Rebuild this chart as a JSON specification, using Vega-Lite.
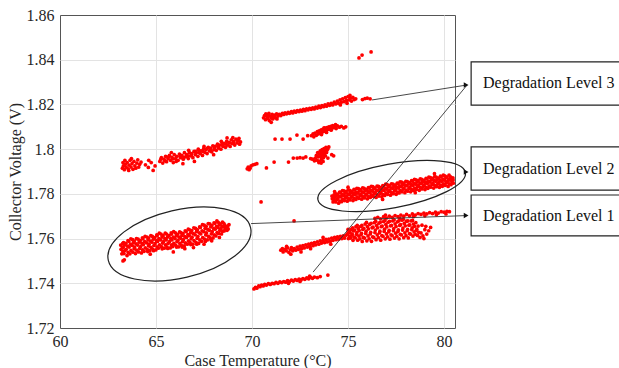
{
"$schema": "https://vega.github.io/schema/vega-lite/v6.json",
"width": 395, "height": 313,
"autosize": {"type": "none"},
"padding": {"left": 60, "top": 15, "right": 164, "bottom": 40},
"background": "white",
"config": {
  "view": {"stroke": "#555555", "strokeWidth": 1},
  "axis": {"labelFont": "Liberation Serif", "titleFont": "Liberation Serif", "labelFontSize": 16, "titleFontSize": 16, "labelColor": "#262626", "titleColor": "#262626", "titleFontWeight": "normal", "gridWidth": 1, "domain": false, "ticks": false, "labelFlush": false}
},
"encoding": {
  "x": {"field": "t", "type": "quantitative", "scale": {"domain": [60, 80.57], "nice": false, "zero": false}, "axis": {"title": "Case Temperature (°C)", "values": [60, 65, 70, 75, 80], "labelPadding": 5, "titlePadding": 3, "gridColor": {"condition": {"test": "datum.value <= 60", "value": "transparent"}, "value": "#e3e3e3"}}},
  "y": {"field": "v", "type": "quantitative", "scale": {"domain": [1.72, 1.86], "nice": false, "zero": false}, "axis": {"title": "Collector Voltage (V)", "values": [1.72, 1.74, 1.76, 1.78, 1.8, 1.82, 1.84, 1.86], "labelExpr": "format(datum.value, '.2~f')", "labelPadding": 6, "titlePadding": 3, "gridColor": {"condition": {"test": "datum.value <= 1.7201 || datum.value >= 1.8599", "value": "transparent"}, "value": "#e3e3e3"}}}
},
"layer": [
{
"data": {"values": [
{"t":63.22,"v":1.7532},{"t":63.28,"v":1.7543},{"t":63.18,"v":1.7552},{"t":63.25,"v":1.7562},{"t":63.16,"v":1.7571},{"t":63.27,"v":1.7579},{"t":63.28,"v":1.7500},{"t":63.35,"v":1.7505},
{"t":63.33,"v":1.7533},{"t":63.39,"v":1.7547},{"t":63.29,"v":1.7560},{"t":63.36,"v":1.7571},{"t":63.31,"v":1.7582},
{"t":63.49,"v":1.7524},{"t":63.55,"v":1.7538},{"t":63.45,"v":1.7552},{"t":63.52,"v":1.7566},{"t":63.43,"v":1.7579},{"t":63.54,"v":1.7591},
{"t":63.64,"v":1.7532},{"t":63.70,"v":1.7547},{"t":63.60,"v":1.7562},{"t":63.67,"v":1.7575},{"t":63.58,"v":1.7588},{"t":63.69,"v":1.7599},
{"t":63.80,"v":1.7539},{"t":63.86,"v":1.7555},{"t":63.76,"v":1.7569},{"t":63.83,"v":1.7582},{"t":63.78,"v":1.7595},
{"t":63.93,"v":1.7533},{"t":63.99,"v":1.7548},{"t":63.89,"v":1.7562},{"t":63.96,"v":1.7576},{"t":63.87,"v":1.7589},{"t":63.98,"v":1.7600},
{"t":64.09,"v":1.7540},{"t":64.15,"v":1.7556},{"t":64.05,"v":1.7571},{"t":64.12,"v":1.7584},{"t":64.07,"v":1.7597},
{"t":64.24,"v":1.7536},{"t":64.30,"v":1.7550},{"t":64.20,"v":1.7564},{"t":64.27,"v":1.7578},{"t":64.18,"v":1.7591},{"t":64.29,"v":1.7603},
{"t":64.38,"v":1.7543},{"t":64.44,"v":1.7558},{"t":64.34,"v":1.7573},{"t":64.41,"v":1.7586},{"t":64.32,"v":1.7599},{"t":64.43,"v":1.7610},
{"t":64.55,"v":1.7551},{"t":64.61,"v":1.7567},{"t":64.51,"v":1.7581},{"t":64.58,"v":1.7594},{"t":64.53,"v":1.7607},{"t":64.57,"v":1.7542},
{"t":64.68,"v":1.7546},{"t":64.74,"v":1.7561},{"t":64.64,"v":1.7575},{"t":64.71,"v":1.7589},{"t":64.62,"v":1.7602},{"t":64.73,"v":1.7613},
{"t":64.83,"v":1.7553},{"t":64.89,"v":1.7569},{"t":64.79,"v":1.7584},{"t":64.86,"v":1.7597},{"t":64.81,"v":1.7610},{"t":64.87,"v":1.7546},
{"t":64.99,"v":1.7549},{"t":65.05,"v":1.7563},{"t":64.95,"v":1.7577},{"t":65.02,"v":1.7591},{"t":64.93,"v":1.7604},{"t":65.04,"v":1.7616},
{"t":65.12,"v":1.7557},{"t":65.18,"v":1.7572},{"t":65.08,"v":1.7587},{"t":65.15,"v":1.7600},{"t":65.06,"v":1.7613},{"t":65.17,"v":1.7624},
{"t":65.28,"v":1.7564},{"t":65.34,"v":1.7580},{"t":65.24,"v":1.7594},{"t":65.31,"v":1.7607},{"t":65.26,"v":1.7620},{"t":65.32,"v":1.7554},
{"t":65.43,"v":1.7557},{"t":65.49,"v":1.7572},{"t":65.39,"v":1.7586},{"t":65.46,"v":1.7600},{"t":65.37,"v":1.7613},{"t":65.48,"v":1.7624},
{"t":65.57,"v":1.7563},{"t":65.63,"v":1.7579},{"t":65.53,"v":1.7594},{"t":65.60,"v":1.7607},{"t":65.55,"v":1.7620},{"t":65.61,"v":1.7556},
{"t":65.74,"v":1.7558},{"t":65.80,"v":1.7572},{"t":65.70,"v":1.7586},{"t":65.77,"v":1.7600},{"t":65.68,"v":1.7613},{"t":65.79,"v":1.7625},
{"t":65.87,"v":1.7564},{"t":65.93,"v":1.7579},{"t":65.83,"v":1.7594},{"t":65.90,"v":1.7607},{"t":65.81,"v":1.7620},{"t":65.92,"v":1.7631},
{"t":66.03,"v":1.7570},{"t":66.09,"v":1.7586},{"t":65.99,"v":1.7600},{"t":66.06,"v":1.7613},{"t":66.01,"v":1.7626},{"t":66.07,"v":1.7562},
{"t":66.18,"v":1.7563},{"t":66.24,"v":1.7578},{"t":66.14,"v":1.7592},{"t":66.21,"v":1.7606},{"t":66.12,"v":1.7619},{"t":66.23,"v":1.7630},
{"t":66.32,"v":1.7570},{"t":66.38,"v":1.7586},{"t":66.28,"v":1.7601},{"t":66.35,"v":1.7614},{"t":66.30,"v":1.7627},{"t":66.36,"v":1.7562},
{"t":66.47,"v":1.7567},{"t":66.53,"v":1.7581},{"t":66.43,"v":1.7595},{"t":66.50,"v":1.7609},{"t":66.41,"v":1.7622},{"t":66.52,"v":1.7634},
{"t":66.63,"v":1.7575},{"t":66.69,"v":1.7590},{"t":66.59,"v":1.7605},{"t":66.66,"v":1.7618},{"t":66.57,"v":1.7631},{"t":66.68,"v":1.7642},
{"t":66.77,"v":1.7583},{"t":66.83,"v":1.7599},{"t":66.73,"v":1.7613},{"t":66.80,"v":1.7626},{"t":66.75,"v":1.7639},{"t":66.81,"v":1.7573},
{"t":66.92,"v":1.7575},{"t":66.98,"v":1.7591},{"t":66.88,"v":1.7606},{"t":66.95,"v":1.7622},{"t":66.86,"v":1.7636},{"t":66.97,"v":1.7648},
{"t":67.08,"v":1.7583},{"t":67.14,"v":1.7601},{"t":67.04,"v":1.7617},{"t":67.11,"v":1.7632},{"t":67.06,"v":1.7646},{"t":67.12,"v":1.7575},
{"t":67.22,"v":1.7578},{"t":67.28,"v":1.7594},{"t":67.18,"v":1.7609},{"t":67.25,"v":1.7625},{"t":67.16,"v":1.7639},{"t":67.27,"v":1.7652},
{"t":67.37,"v":1.7588},{"t":67.43,"v":1.7604},{"t":67.33,"v":1.7621},{"t":67.40,"v":1.7635},{"t":67.31,"v":1.7650},{"t":67.42,"v":1.7662},
{"t":67.53,"v":1.7598},{"t":67.59,"v":1.7616},{"t":67.49,"v":1.7631},{"t":67.56,"v":1.7646},{"t":67.51,"v":1.7660},{"t":67.57,"v":1.7587},
{"t":67.67,"v":1.7594},{"t":67.73,"v":1.7610},{"t":67.63,"v":1.7625},{"t":67.70,"v":1.7641},{"t":67.61,"v":1.7655},{"t":67.72,"v":1.7667},
{"t":67.82,"v":1.7603},{"t":67.88,"v":1.7621},{"t":67.78,"v":1.7637},{"t":67.85,"v":1.7652},{"t":67.80,"v":1.7666},{"t":67.86,"v":1.7595},
{"t":67.97,"v":1.7603},{"t":68.03,"v":1.7617},{"t":67.93,"v":1.7631},{"t":68.00,"v":1.7645},{"t":67.91,"v":1.7658},{"t":68.02,"v":1.7670},
{"t":68.12,"v":1.7612},{"t":68.18,"v":1.7627},{"t":68.08,"v":1.7642},{"t":68.15,"v":1.7655},{"t":68.06,"v":1.7668},{"t":68.17,"v":1.7679},
{"t":68.26,"v":1.7623},{"t":68.32,"v":1.7637},{"t":68.22,"v":1.7650},{"t":68.29,"v":1.7661},{"t":68.24,"v":1.7673},
{"t":68.41,"v":1.7621},{"t":68.47,"v":1.7633},{"t":68.37,"v":1.7644},{"t":68.44,"v":1.7655},{"t":68.35,"v":1.7666},{"t":68.46,"v":1.7674},
{"t":68.55,"v":1.7634},{"t":68.61,"v":1.7643},{"t":68.51,"v":1.7652},{"t":68.58,"v":1.7660},{"t":68.53,"v":1.7668},
{"t":68.70,"v":1.7637},{"t":68.76,"v":1.7643},{"t":68.66,"v":1.7649},{"t":68.73,"v":1.7656},{"t":68.80,"v":1.7662},
{"t":65.90,"v":1.7540},{"t":66.50,"v":1.7555},{"t":67.50,"v":1.7575},{"t":67.90,"v":1.7590},{"t":68.30,"v":1.7605},{"t":64.70,"v":1.7530},{"t":66.95,"v":1.7560},
{"t":74.22,"v":1.7764},{"t":74.28,"v":1.7772},{"t":74.18,"v":1.7778},{"t":74.25,"v":1.7784},{"t":74.16,"v":1.7790},{"t":74.27,"v":1.7795},
{"t":74.36,"v":1.7764},{"t":74.42,"v":1.7774},{"t":74.32,"v":1.7785},{"t":74.39,"v":1.7792},{"t":74.34,"v":1.7801},
{"t":74.51,"v":1.7758},{"t":74.57,"v":1.7768},{"t":74.47,"v":1.7779},{"t":74.54,"v":1.7790},{"t":74.45,"v":1.7799},{"t":74.56,"v":1.7808},
{"t":74.66,"v":1.7765},{"t":74.72,"v":1.7776},{"t":74.62,"v":1.7787},{"t":74.69,"v":1.7797},{"t":74.60,"v":1.7807},{"t":74.71,"v":1.7815},
{"t":74.81,"v":1.7770},{"t":74.87,"v":1.7782},{"t":74.77,"v":1.7793},{"t":74.84,"v":1.7803},{"t":74.79,"v":1.7813},
{"t":74.96,"v":1.7767},{"t":75.02,"v":1.7779},{"t":74.92,"v":1.7789},{"t":74.99,"v":1.7800},{"t":74.90,"v":1.7810},{"t":75.01,"v":1.7818},
{"t":75.11,"v":1.7773},{"t":75.17,"v":1.7785},{"t":75.07,"v":1.7797},{"t":75.14,"v":1.7806},{"t":75.09,"v":1.7816},
{"t":75.26,"v":1.7770},{"t":75.32,"v":1.7780},{"t":75.22,"v":1.7791},{"t":75.29,"v":1.7802},{"t":75.20,"v":1.7811},{"t":75.31,"v":1.7820},
{"t":75.41,"v":1.7775},{"t":75.47,"v":1.7786},{"t":75.37,"v":1.7797},{"t":75.44,"v":1.7807},{"t":75.35,"v":1.7817},{"t":75.46,"v":1.7825},
{"t":75.56,"v":1.7780},{"t":75.62,"v":1.7792},{"t":75.52,"v":1.7803},{"t":75.59,"v":1.7813},{"t":75.54,"v":1.7823},
{"t":75.71,"v":1.7776},{"t":75.77,"v":1.7788},{"t":75.67,"v":1.7798},{"t":75.74,"v":1.7809},{"t":75.65,"v":1.7819},{"t":75.76,"v":1.7827},
{"t":75.86,"v":1.7782},{"t":75.92,"v":1.7794},{"t":75.82,"v":1.7806},{"t":75.89,"v":1.7815},{"t":75.84,"v":1.7825},
{"t":76.01,"v":1.7778},{"t":76.07,"v":1.7788},{"t":75.97,"v":1.7799},{"t":76.04,"v":1.7810},{"t":75.95,"v":1.7819},{"t":76.06,"v":1.7828},
{"t":76.16,"v":1.7784},{"t":76.22,"v":1.7795},{"t":76.12,"v":1.7806},{"t":76.19,"v":1.7816},{"t":76.10,"v":1.7826},{"t":76.21,"v":1.7834},
{"t":76.31,"v":1.7789},{"t":76.37,"v":1.7801},{"t":76.27,"v":1.7812},{"t":76.34,"v":1.7822},{"t":76.29,"v":1.7832},
{"t":76.46,"v":1.7784},{"t":76.52,"v":1.7796},{"t":76.42,"v":1.7806},{"t":76.49,"v":1.7817},{"t":76.40,"v":1.7827},{"t":76.51,"v":1.7835},
{"t":76.61,"v":1.7790},{"t":76.67,"v":1.7802},{"t":76.57,"v":1.7814},{"t":76.64,"v":1.7823},{"t":76.59,"v":1.7833},
{"t":76.76,"v":1.7787},{"t":76.82,"v":1.7797},{"t":76.72,"v":1.7808},{"t":76.79,"v":1.7819},{"t":76.70,"v":1.7828},{"t":76.81,"v":1.7837},
{"t":76.91,"v":1.7793},{"t":76.97,"v":1.7804},{"t":76.87,"v":1.7815},{"t":76.94,"v":1.7825},{"t":76.85,"v":1.7835},{"t":76.96,"v":1.7843},
{"t":77.06,"v":1.7798},{"t":77.12,"v":1.7810},{"t":77.02,"v":1.7821},{"t":77.09,"v":1.7831},{"t":77.04,"v":1.7841},
{"t":77.21,"v":1.7794},{"t":77.27,"v":1.7806},{"t":77.17,"v":1.7816},{"t":77.24,"v":1.7827},{"t":77.15,"v":1.7837},{"t":77.26,"v":1.7845},
{"t":77.36,"v":1.7801},{"t":77.42,"v":1.7813},{"t":77.32,"v":1.7825},{"t":77.39,"v":1.7834},{"t":77.34,"v":1.7844},
{"t":77.51,"v":1.7798},{"t":77.57,"v":1.7808},{"t":77.47,"v":1.7819},{"t":77.54,"v":1.7830},{"t":77.45,"v":1.7839},{"t":77.56,"v":1.7848},
{"t":77.66,"v":1.7804},{"t":77.72,"v":1.7815},{"t":77.62,"v":1.7826},{"t":77.69,"v":1.7836},{"t":77.60,"v":1.7846},{"t":77.71,"v":1.7854},
{"t":77.81,"v":1.7809},{"t":77.87,"v":1.7821},{"t":77.77,"v":1.7832},{"t":77.84,"v":1.7842},{"t":77.79,"v":1.7852},
{"t":77.96,"v":1.7805},{"t":78.02,"v":1.7817},{"t":77.92,"v":1.7827},{"t":77.99,"v":1.7838},{"t":77.90,"v":1.7848},{"t":78.01,"v":1.7856},
{"t":78.11,"v":1.7812},{"t":78.17,"v":1.7824},{"t":78.07,"v":1.7836},{"t":78.14,"v":1.7845},{"t":78.09,"v":1.7855},
{"t":78.26,"v":1.7809},{"t":78.32,"v":1.7819},{"t":78.22,"v":1.7830},{"t":78.29,"v":1.7841},{"t":78.20,"v":1.7850},{"t":78.31,"v":1.7859},
{"t":78.41,"v":1.7815},{"t":78.47,"v":1.7826},{"t":78.37,"v":1.7837},{"t":78.44,"v":1.7847},{"t":78.35,"v":1.7857},{"t":78.46,"v":1.7865},
{"t":78.56,"v":1.7820},{"t":78.62,"v":1.7832},{"t":78.52,"v":1.7843},{"t":78.59,"v":1.7853},{"t":78.54,"v":1.7863},
{"t":78.71,"v":1.7816},{"t":78.77,"v":1.7828},{"t":78.67,"v":1.7838},{"t":78.74,"v":1.7849},{"t":78.65,"v":1.7859},{"t":78.76,"v":1.7867},
{"t":78.86,"v":1.7822},{"t":78.92,"v":1.7834},{"t":78.82,"v":1.7846},{"t":78.89,"v":1.7855},{"t":78.84,"v":1.7865},
{"t":79.01,"v":1.7819},{"t":79.07,"v":1.7829},{"t":78.97,"v":1.7840},{"t":79.04,"v":1.7851},{"t":78.95,"v":1.7860},{"t":79.06,"v":1.7869},
{"t":79.16,"v":1.7825},{"t":79.22,"v":1.7836},{"t":79.12,"v":1.7847},{"t":79.19,"v":1.7857},{"t":79.10,"v":1.7867},{"t":79.21,"v":1.7875},
{"t":79.31,"v":1.7830},{"t":79.37,"v":1.7842},{"t":79.27,"v":1.7853},{"t":79.34,"v":1.7863},{"t":79.29,"v":1.7873},
{"t":79.46,"v":1.7826},{"t":79.52,"v":1.7838},{"t":79.42,"v":1.7848},{"t":79.49,"v":1.7859},{"t":79.40,"v":1.7869},{"t":79.51,"v":1.7877},
{"t":79.61,"v":1.7832},{"t":79.67,"v":1.7844},{"t":79.57,"v":1.7856},{"t":79.64,"v":1.7865},{"t":79.59,"v":1.7875},
{"t":79.76,"v":1.7829},{"t":79.82,"v":1.7839},{"t":79.72,"v":1.7850},{"t":79.79,"v":1.7861},{"t":79.70,"v":1.7870},{"t":79.81,"v":1.7879},
{"t":79.91,"v":1.7834},{"t":79.97,"v":1.7845},{"t":79.87,"v":1.7856},{"t":79.94,"v":1.7866},{"t":79.85,"v":1.7876},{"t":79.96,"v":1.7884},
{"t":80.06,"v":1.7838},{"t":80.12,"v":1.7850},{"t":80.02,"v":1.7861},{"t":80.09,"v":1.7871},{"t":80.04,"v":1.7881},
{"t":80.21,"v":1.7833},{"t":80.27,"v":1.7845},{"t":80.17,"v":1.7855},{"t":80.24,"v":1.7866},{"t":80.15,"v":1.7876},{"t":80.26,"v":1.7884},
{"t":80.36,"v":1.7841},{"t":80.42,"v":1.7851},{"t":80.32,"v":1.7861},{"t":80.39,"v":1.7868},{"t":80.34,"v":1.7876},
{"t":80.48,"v":1.7848},{"t":80.47,"v":1.7862},{"t":80.46,"v":1.7872},
{"t":75.00,"v":1.7830},{"t":76.80,"v":1.7775},{"t":78.50,"v":1.7805},{"t":79.50,"v":1.7890},{"t":74.30,"v":1.7810},
{"t":63.25,"v":1.7915},{"t":63.30,"v":1.7925},{"t":63.35,"v":1.7908},{"t":63.40,"v":1.7932},{"t":63.45,"v":1.7918},{"t":63.50,"v":1.7940},{"t":63.55,"v":1.7912},{"t":63.60,"v":1.7928},{"t":63.65,"v":1.7950},{"t":63.70,"v":1.7920},{"t":63.75,"v":1.7935},{"t":63.80,"v":1.7910},{"t":63.85,"v":1.7945},{"t":63.90,"v":1.7925},{"t":63.95,"v":1.7915},{"t":64.00,"v":1.7938},{"t":64.05,"v":1.7952},{"t":64.10,"v":1.7920},{"t":64.15,"v":1.7932},{"t":63.38,"v":1.7950},{"t":63.72,"v":1.7958},{"t":63.58,"v":1.7905},{"t":64.22,"v":1.7942},{"t":63.28,"v":1.7940},
{"t":64.45,"v":1.7930},{"t":64.60,"v":1.7918},{"t":64.75,"v":1.7940},{"t":64.85,"v":1.7905},{"t":64.95,"v":1.7925},{"t":64.62,"v":1.7950},
{"t":65.20,"v":1.7945},{"t":65.28,"v":1.7962},{"t":65.35,"v":1.7938},{"t":65.42,"v":1.7955},{"t":65.50,"v":1.7968},{"t":65.55,"v":1.7944},{"t":65.62,"v":1.7958},{"t":65.70,"v":1.7972},{"t":65.76,"v":1.7950},{"t":65.83,"v":1.7963},{"t":65.90,"v":1.7940},{"t":65.95,"v":1.7975},{"t":66.02,"v":1.7958},{"t":66.08,"v":1.7968},{"t":66.15,"v":1.7950},{"t":66.22,"v":1.7978},{"t":66.28,"v":1.7962},{"t":66.35,"v":1.7972},{"t":66.42,"v":1.7955},{"t":66.48,"v":1.7984},{"t":66.55,"v":1.7966},{"t":66.60,"v":1.7976},{"t":66.68,"v":1.7958},{"t":66.74,"v":1.7985},{"t":66.80,"v":1.7970},{"t":66.86,"v":1.7980},{"t":66.92,"v":1.7962},{"t":66.98,"v":1.7990},{"t":67.05,"v":1.7975},{"t":67.10,"v":1.7985},{"t":67.18,"v":1.7968},{"t":67.24,"v":1.7995},{"t":67.30,"v":1.7980},{"t":67.36,"v":1.7992},{"t":67.42,"v":1.7972},{"t":67.48,"v":1.8002},{"t":67.55,"v":1.7985},{"t":67.60,"v":1.7998},{"t":67.66,"v":1.7980},{"t":67.72,"v":1.8008},{"t":67.78,"v":1.7992},{"t":67.85,"v":1.8005},{"t":67.90,"v":1.7988},{"t":67.96,"v":1.8015},{"t":68.02,"v":1.7998},{"t":68.08,"v":1.8012},{"t":68.14,"v":1.7995},{"t":68.20,"v":1.8022},{"t":68.26,"v":1.8005},{"t":68.32,"v":1.8018},{"t":68.38,"v":1.8000},{"t":68.44,"v":1.8028},{"t":68.50,"v":1.8012},{"t":68.56,"v":1.8025},{"t":68.62,"v":1.8008},{"t":68.68,"v":1.8035},{"t":68.74,"v":1.8018},{"t":68.80,"v":1.8030},{"t":68.86,"v":1.8012},{"t":68.92,"v":1.8042},{"t":68.98,"v":1.8025},{"t":69.04,"v":1.8035},{"t":69.10,"v":1.8018},{"t":69.16,"v":1.8045},{"t":69.22,"v":1.8028},{"t":69.28,"v":1.8038},{"t":69.35,"v":1.8022},{"t":69.40,"v":1.8032},{"t":67.00,"v":1.7945},{"t":66.40,"v":1.7935},{"t":68.00,"v":1.7975},{"t":68.70,"v":1.8050},{"t":69.00,"v":1.8052},{"t":67.50,"v":1.8012},{"t":65.80,"v":1.7985},
{"t":65.25,"v":1.7955},{"t":65.45,"v":1.7948},{"t":65.65,"v":1.7965},{"t":65.88,"v":1.7957},{"t":66.05,"v":1.7945},{"t":66.25,"v":1.7968},{"t":66.45,"v":1.7962},{"t":66.65,"v":1.7970},{"t":66.85,"v":1.7975},{"t":67.05,"v":1.7990},{"t":67.25,"v":1.7985},{"t":67.45,"v":1.7990},{"t":67.65,"v":1.8002},{"t":67.85,"v":1.7995},{"t":68.05,"v":1.8005},{"t":68.25,"v":1.8015},{"t":68.45,"v":1.8018},{"t":68.65,"v":1.8022},{"t":68.85,"v":1.8028},{"t":69.05,"v":1.8028},{"t":69.25,"v":1.8040},{"t":69.32,"v":1.8048},{"t":66.70,"v":1.7995},{"t":67.20,"v":1.8000},{"t":68.40,"v":1.8035},
{"t":69.75,"v":1.7912},{"t":69.80,"v":1.7920},{"t":69.85,"v":1.7908},{"t":69.95,"v":1.7925},{"t":70.05,"v":1.7930},{"t":70.15,"v":1.7932},{"t":70.25,"v":1.7935},{"t":69.90,"v":1.7915},
{"t":70.60,"v":1.8140},{"t":70.65,"v":1.8150},{"t":70.70,"v":1.8132},{"t":70.72,"v":1.8158},{"t":70.78,"v":1.8145},{"t":70.82,"v":1.8138},{"t":70.85,"v":1.8152},{"t":70.90,"v":1.8128},{"t":70.95,"v":1.8148},{"t":71.00,"v":1.8140},{"t":71.05,"v":1.8155},{"t":71.08,"v":1.8135},{"t":71.12,"v":1.8146},{"t":71.18,"v":1.8152},{"t":71.22,"v":1.8140},{"t":71.28,"v":1.8158},{"t":71.35,"v":1.8148},{"t":71.42,"v":1.8155},{"t":71.50,"v":1.8150},{"t":71.58,"v":1.8160},{"t":71.65,"v":1.8155},{"t":71.72,"v":1.8162},{"t":71.80,"v":1.8158},{"t":71.88,"v":1.8165},{"t":71.95,"v":1.8160},{"t":72.05,"v":1.8168},{"t":72.12,"v":1.8162},{"t":72.20,"v":1.8170},{"t":72.28,"v":1.8165},{"t":72.36,"v":1.8172},{"t":72.45,"v":1.8168},{"t":72.52,"v":1.8175},{"t":72.60,"v":1.8170},{"t":72.68,"v":1.8178},{"t":72.76,"v":1.8172},{"t":72.84,"v":1.8180},{"t":72.92,"v":1.8176},{"t":73.00,"v":1.8182},{"t":73.08,"v":1.8178},{"t":73.16,"v":1.8185},{"t":73.24,"v":1.8180},{"t":73.32,"v":1.8188},{"t":73.40,"v":1.8184},{"t":73.48,"v":1.8192},{"t":73.56,"v":1.8186},{"t":73.64,"v":1.8195},{"t":73.72,"v":1.8190},{"t":73.80,"v":1.8198},{"t":73.88,"v":1.8192},{"t":73.96,"v":1.8202},{"t":74.04,"v":1.8196},{"t":74.12,"v":1.8205},{"t":74.20,"v":1.8198},{"t":74.28,"v":1.8210},{"t":74.36,"v":1.8202},{"t":74.44,"v":1.8215},{"t":74.50,"v":1.8205},{"t":74.58,"v":1.8220},{"t":74.65,"v":1.8210},{"t":74.72,"v":1.8225},{"t":74.80,"v":1.8212},{"t":74.86,"v":1.8230},{"t":74.92,"v":1.8218},{"t":75.00,"v":1.8235},{"t":75.06,"v":1.8220},{"t":75.12,"v":1.8228},{"t":75.18,"v":1.8215},{"t":75.25,"v":1.8232},{"t":75.32,"v":1.8222},{"t":75.40,"v":1.8225},{"t":74.95,"v":1.8205},{"t":74.60,"v":1.8198},{"t":75.10,"v":1.8240},{"t":70.88,"v":1.8160},{"t":71.30,"v":1.8135},{"t":71.00,"v":1.8120},{"t":75.75,"v":1.8222},{"t":75.88,"v":1.8226},{"t":76.00,"v":1.8228},{"t":76.15,"v":1.8225},
{"t":75.57,"v":1.8408},{"t":75.73,"v":1.8421},{"t":76.20,"v":1.8435},
{"t":73.10,"v":1.8060},{"t":73.18,"v":1.8068},{"t":73.22,"v":1.8055},{"t":73.28,"v":1.8072},{"t":73.35,"v":1.8062},{"t":73.40,"v":1.8078},{"t":73.45,"v":1.8068},{"t":73.50,"v":1.8082},{"t":73.55,"v":1.8072},{"t":73.60,"v":1.8086},{"t":73.65,"v":1.8076},{"t":73.70,"v":1.8090},{"t":73.75,"v":1.8080},{"t":73.80,"v":1.8094},{"t":73.85,"v":1.8085},{"t":73.90,"v":1.8096},{"t":73.95,"v":1.8088},{"t":74.00,"v":1.8100},{"t":74.05,"v":1.8090},{"t":74.10,"v":1.8102},{"t":74.15,"v":1.8094},{"t":74.20,"v":1.8105},{"t":74.25,"v":1.8096},{"t":74.30,"v":1.8100},{"t":74.38,"v":1.8092},{"t":74.45,"v":1.8104},{"t":74.55,"v":1.8098},{"t":74.65,"v":1.8102},{"t":74.78,"v":1.8095},{"t":74.88,"v":1.8100},{"t":73.62,"v":1.8065},{"t":73.88,"v":1.8075},{"t":74.12,"v":1.8085},{"t":73.75,"v":1.8095},{"t":74.35,"v":1.8110},
{"t":71.20,"v":1.8045},{"t":71.56,"v":1.8045},{"t":71.98,"v":1.8045},{"t":72.66,"v":1.8045},{"t":72.34,"v":1.8063},{"t":72.90,"v":1.8060},
{"t":73.30,"v":1.7960},{"t":73.35,"v":1.7972},{"t":73.40,"v":1.7950},{"t":73.42,"v":1.7985},{"t":73.45,"v":1.7965},{"t":73.50,"v":1.7978},{"t":73.52,"v":1.7945},{"t":73.55,"v":1.7992},{"t":73.58,"v":1.7968},{"t":73.60,"v":1.7982},{"t":73.62,"v":1.7955},{"t":73.65,"v":1.7998},{"t":73.68,"v":1.7975},{"t":73.70,"v":1.7988},{"t":73.72,"v":1.7962},{"t":73.75,"v":1.8002},{"t":73.78,"v":1.7980},{"t":73.80,"v":1.7992},{"t":73.82,"v":1.7970},{"t":73.85,"v":1.8008},{"t":73.88,"v":1.7985},{"t":73.90,"v":1.7995},{"t":73.95,"v":1.8002},{"t":74.00,"v":1.8010},{"t":73.48,"v":1.7940},{"t":73.60,"v":1.7938},{"t":73.25,"v":1.7948},{"t":73.15,"v":1.7955},{"t":73.05,"v":1.7958},{"t":74.15,"v":1.7975},{"t":74.25,"v":1.7970},{"t":73.95,"v":1.7960},{"t":73.70,"v":1.7945},
{"t":70.75,"v":1.7916},{"t":71.15,"v":1.7942},{"t":71.90,"v":1.7942},{"t":72.15,"v":1.7960},{"t":72.35,"v":1.7960},{"t":72.50,"v":1.7962},{"t":72.66,"v":1.7960},{"t":72.80,"v":1.7965},
{"t":70.47,"v":1.7764},{"t":72.19,"v":1.7679},
{"t":71.50,"v":1.7548},{"t":71.58,"v":1.7555},{"t":71.62,"v":1.7540},{"t":71.70,"v":1.7552},{"t":71.78,"v":1.7545},{"t":71.85,"v":1.7558},{"t":71.92,"v":1.7538},{"t":72.00,"v":1.7550},{"t":72.05,"v":1.7560},{"t":72.12,"v":1.7545},{"t":72.20,"v":1.7555},{"t":72.28,"v":1.7548},{"t":72.35,"v":1.7562},{"t":72.42,"v":1.7552},{"t":72.50,"v":1.7566},{"t":72.58,"v":1.7555},{"t":72.65,"v":1.7568},{"t":72.72,"v":1.7558},{"t":72.80,"v":1.7572},{"t":72.88,"v":1.7562},{"t":72.95,"v":1.7575},{"t":73.02,"v":1.7565},{"t":73.10,"v":1.7578},{"t":73.18,"v":1.7568},{"t":73.25,"v":1.7582},{"t":73.32,"v":1.7572},{"t":73.40,"v":1.7585},{"t":73.48,"v":1.7575},{"t":73.55,"v":1.7590},{"t":73.62,"v":1.7580},{"t":73.70,"v":1.7592},{"t":73.78,"v":1.7582},{"t":73.85,"v":1.7596},{"t":73.92,"v":1.7585},{"t":74.00,"v":1.7598},{"t":74.08,"v":1.7588},{"t":74.15,"v":1.7602},{"t":74.22,"v":1.7592},{"t":74.30,"v":1.7605},{"t":74.38,"v":1.7595},{"t":74.45,"v":1.7608},{"t":74.52,"v":1.7598},{"t":74.60,"v":1.7610},{"t":74.68,"v":1.7600},{"t":74.75,"v":1.7612},{"t":74.82,"v":1.7602},{"t":74.90,"v":1.7615},{"t":72.02,"v":1.7530},{"t":72.55,"v":1.7540},{"t":73.05,"v":1.7555},{"t":71.80,"v":1.7565},{"t":73.70,"v":1.7605},{"t":74.10,"v":1.7575},
{"t":75.02,"v":1.7600},{"t":75.08,"v":1.7611},{"t":74.98,"v":1.7622},{"t":75.05,"v":1.7632},{"t":75.00,"v":1.7641},
{"t":75.14,"v":1.7602},{"t":75.20,"v":1.7615},{"t":75.10,"v":1.7628},{"t":75.17,"v":1.7641},
{"t":75.26,"v":1.7592},{"t":75.32,"v":1.7606},{"t":75.22,"v":1.7620},{"t":75.29,"v":1.7634},{"t":75.24,"v":1.7648},
{"t":75.38,"v":1.7603},{"t":75.44,"v":1.7619},{"t":75.34,"v":1.7638},{"t":75.41,"v":1.7653},
{"t":75.50,"v":1.7593},{"t":75.56,"v":1.7611},{"t":75.46,"v":1.7627},{"t":75.53,"v":1.7644},{"t":75.48,"v":1.7659},
{"t":75.62,"v":1.7599},{"t":75.68,"v":1.7617},{"t":75.58,"v":1.7636},{"t":75.65,"v":1.7654},
{"t":75.74,"v":1.7587},{"t":75.80,"v":1.7605},{"t":75.70,"v":1.7623},{"t":75.77,"v":1.7641},{"t":75.72,"v":1.7659},
{"t":75.86,"v":1.7602},{"t":75.92,"v":1.7623},{"t":75.82,"v":1.7646},{"t":75.89,"v":1.7665},
{"t":75.98,"v":1.7590},{"t":76.04,"v":1.7612},{"t":75.94,"v":1.7633},{"t":76.01,"v":1.7654},{"t":75.96,"v":1.7672},
{"t":76.10,"v":1.7599},{"t":76.16,"v":1.7621},{"t":76.06,"v":1.7643},{"t":76.13,"v":1.7664},
{"t":76.22,"v":1.7588},{"t":76.28,"v":1.7608},{"t":76.18,"v":1.7628},{"t":76.25,"v":1.7648},{"t":76.20,"v":1.7668},
{"t":76.34,"v":1.7605},{"t":76.40,"v":1.7627},{"t":76.30,"v":1.7651},{"t":76.37,"v":1.7671},
{"t":76.46,"v":1.7595},{"t":76.52,"v":1.7617},{"t":76.42,"v":1.7638},{"t":76.49,"v":1.7659},{"t":76.44,"v":1.7677},
{"t":76.58,"v":1.7604},{"t":76.64,"v":1.7626},{"t":76.54,"v":1.7648},{"t":76.61,"v":1.7669},
{"t":76.70,"v":1.7593},{"t":76.76,"v":1.7613},{"t":76.66,"v":1.7633},{"t":76.73,"v":1.7653},{"t":76.68,"v":1.7673},
{"t":76.82,"v":1.7610},{"t":76.88,"v":1.7632},{"t":76.78,"v":1.7656},{"t":76.85,"v":1.7676},
{"t":76.94,"v":1.7599},{"t":77.00,"v":1.7621},{"t":76.90,"v":1.7642},{"t":76.97,"v":1.7663},{"t":76.92,"v":1.7681},
{"t":77.06,"v":1.7608},{"t":77.12,"v":1.7630},{"t":77.02,"v":1.7652},{"t":77.09,"v":1.7673},
{"t":77.18,"v":1.7597},{"t":77.24,"v":1.7617},{"t":77.14,"v":1.7637},{"t":77.21,"v":1.7657},{"t":77.16,"v":1.7677},
{"t":77.30,"v":1.7613},{"t":77.36,"v":1.7635},{"t":77.26,"v":1.7659},{"t":77.33,"v":1.7679},
{"t":77.42,"v":1.7602},{"t":77.48,"v":1.7624},{"t":77.38,"v":1.7645},{"t":77.45,"v":1.7666},{"t":77.40,"v":1.7684},
{"t":77.54,"v":1.7610},{"t":77.60,"v":1.7632},{"t":77.50,"v":1.7654},{"t":77.57,"v":1.7675},
{"t":77.66,"v":1.7599},{"t":77.72,"v":1.7619},{"t":77.62,"v":1.7639},{"t":77.69,"v":1.7659},{"t":77.64,"v":1.7679},
{"t":77.78,"v":1.7616},{"t":77.84,"v":1.7638},{"t":77.74,"v":1.7662},{"t":77.81,"v":1.7682},
{"t":77.90,"v":1.7604},{"t":77.96,"v":1.7626},{"t":77.86,"v":1.7647},{"t":77.93,"v":1.7668},{"t":77.88,"v":1.7686},
{"t":78.02,"v":1.7613},{"t":78.08,"v":1.7635},{"t":77.98,"v":1.7657},{"t":78.05,"v":1.7678},
{"t":78.14,"v":1.7603},{"t":78.20,"v":1.7622},{"t":78.10,"v":1.7641},{"t":78.17,"v":1.7660},{"t":78.12,"v":1.7679},
{"t":78.26,"v":1.7620},{"t":78.32,"v":1.7640},{"t":78.22,"v":1.7661},{"t":78.29,"v":1.7679},
{"t":78.38,"v":1.7611},{"t":78.44,"v":1.7630},{"t":78.34,"v":1.7648},{"t":78.41,"v":1.7665},{"t":78.36,"v":1.7681},
{"t":78.50,"v":1.7619},{"t":78.56,"v":1.7637},{"t":78.46,"v":1.7655},{"t":78.53,"v":1.7671},
{"t":78.62,"v":1.7614},{"t":78.68,"v":1.7628},{"t":78.58,"v":1.7642},{"t":78.65,"v":1.7656},
{"t":78.80,"v":1.7625},{"t":78.90,"v":1.7612},{"t":79.00,"v":1.7640},{"t":79.10,"v":1.7620},{"t":79.20,"v":1.7635},{"t":78.95,"v":1.7600},{"t":79.05,"v":1.7655},{"t":78.85,"v":1.7660},{"t":78.75,"v":1.7605},{"t":79.30,"v":1.7650},
{"t":76.40,"v":1.7690},{"t":76.55,"v":1.7695},{"t":76.70,"v":1.7688},{"t":76.85,"v":1.7698},{"t":77.00,"v":1.7692},{"t":77.15,"v":1.7700},{"t":77.30,"v":1.7695},{"t":77.45,"v":1.7703},{"t":77.60,"v":1.7698},{"t":77.75,"v":1.7705},{"t":77.90,"v":1.7700},{"t":78.05,"v":1.7708},{"t":78.20,"v":1.7702},{"t":78.35,"v":1.7710},{"t":78.50,"v":1.7705},{"t":78.65,"v":1.7712},{"t":78.80,"v":1.7708},{"t":78.95,"v":1.7714},{"t":79.10,"v":1.7710},{"t":79.25,"v":1.7716},{"t":79.40,"v":1.7712},{"t":79.55,"v":1.7718},{"t":79.70,"v":1.7714},{"t":79.85,"v":1.7720},{"t":80.00,"v":1.7718},{"t":80.15,"v":1.7722},{"t":80.28,"v":1.7720},{"t":76.95,"v":1.7705},{"t":77.70,"v":1.7690},{"t":78.40,"v":1.7698},{"t":79.00,"v":1.7702},{"t":79.60,"v":1.7706},{"t":80.10,"v":1.7710},
{"t":70.10,"v":1.7375},{"t":70.18,"v":1.7382},{"t":70.25,"v":1.7378},{"t":70.35,"v":1.7388},{"t":70.42,"v":1.7385},{"t":70.50,"v":1.7392},{"t":70.58,"v":1.7388},{"t":70.66,"v":1.7395},{"t":70.75,"v":1.7392},{"t":70.85,"v":1.7398},{"t":70.95,"v":1.7395},{"t":71.05,"v":1.7400},{"t":71.15,"v":1.7398},{"t":71.25,"v":1.7404},{"t":71.35,"v":1.7400},{"t":71.45,"v":1.7406},{"t":71.55,"v":1.7403},{"t":71.65,"v":1.7408},{"t":71.75,"v":1.7405},{"t":71.85,"v":1.7412},{"t":71.95,"v":1.7408},{"t":72.05,"v":1.7414},{"t":72.15,"v":1.7410},{"t":72.25,"v":1.7416},{"t":72.35,"v":1.7413},{"t":72.45,"v":1.7419},{"t":72.55,"v":1.7415},{"t":72.65,"v":1.7421},{"t":72.75,"v":1.7418},{"t":72.85,"v":1.7424},{"t":72.95,"v":1.7420},{"t":73.05,"v":1.7426},{"t":73.15,"v":1.7422},{"t":73.25,"v":1.7428},{"t":73.40,"v":1.7425},{"t":73.55,"v":1.7430},{"t":73.95,"v":1.7437},{"t":72.50,"v":1.7408},{"t":71.90,"v":1.7400},{"t":73.00,"v":1.7432}
]},
"mark": {"type": "point", "shape": "circle", "filled": true, "size": 14, "color": "#ff0000", "opacity": 1, "strokeWidth": 0}
},
{
"data": {"values": [{"t": 66.22, "v": 1.7576}]},
"mark": {"type": "point", "filled": false, "stroke": "#222222", "strokeWidth": 1.2, "opacity": 1, "size": 21316, "angle": 347, "shape": "M -1 0 C -1 -0.2574 -0.5523 -0.466 0 -0.466 C 0.5523 -0.466 1 -0.2574 1 0 C 1 0.2574 0.5523 0.466 0 0.466 C -0.5523 0.466 -1 0.2574 -1 0 Z"}
},
{
"data": {"values": [{"t": 77.27, "v": 1.7835}]},
"mark": {"type": "point", "filled": false, "stroke": "#222222", "strokeWidth": 1.2, "opacity": 1, "size": 22500, "angle": 349.5, "shape": "M -1 0 C -1 -0.1619 -0.5523 -0.293 0 -0.293 C 0.5523 -0.293 1 -0.1619 1 0 C 1 0.1619 0.5523 0.293 0 0.293 C -0.5523 0.293 -1 0.1619 -1 0 Z"}
},
{
"data": {"values": [
{"g": "a", "t": 76.25, "v": 1.8220}, {"g": "a", "t": 81.2, "v": 1.8287},
{"g": "b", "t": 73.18, "v": 1.7450}, {"g": "b", "t": 81.2, "v": 1.8287},
{"g": "c", "t": 81.05, "v": 1.7898}, {"g": "c", "t": 81.2, "v": 1.7898},
{"g": "d", "t": 69.95, "v": 1.7667}, {"g": "d", "t": 81.2, "v": 1.7703}
]},
"mark": {"type": "line", "color": "#333333", "strokeWidth": 0.9},
"encoding": {"detail": {"field": "g", "type": "nominal"}}
},
{
"data": {"values": [{"t": 81.15, "v": 1.8287}, {"t": 81.15, "v": 1.7898}, {"t": 81.15, "v": 1.7703}]},
"mark": {"type": "point", "shape": "triangle-right", "filled": true, "size": 30, "color": "#111111", "opacity": 1}
},
{
"data": {"values": [
{"t": 81.41, "t2": 90.5, "v": 1.8390, "v2": 1.8197},
{"t": 81.41, "t2": 90.5, "v": 1.8010, "v2": 1.7817},
{"t": 81.41, "t2": 90.5, "v": 1.7795, "v2": 1.7612}
]},
"mark": {"type": "rect", "fill": "white", "stroke": "#222222", "strokeWidth": 1.2},
"encoding": {"x2": {"field": "t2"}, "y2": {"field": "v2"}}
},
{
"data": {"values": [
{"t": 82.03, "v": 1.8294, "label": "Degradation Level 3"},
{"t": 82.03, "v": 1.7913, "label": "Degradation Level 2"},
{"t": 82.03, "v": 1.7703, "label": "Degradation Level 1"}
]},
"mark": {"type": "text", "align": "left", "baseline": "middle", "font": "Liberation Serif", "fontSize": 16, "color": "#111111"},
"encoding": {"text": {"field": "label", "type": "nominal"}}
}
]
}
